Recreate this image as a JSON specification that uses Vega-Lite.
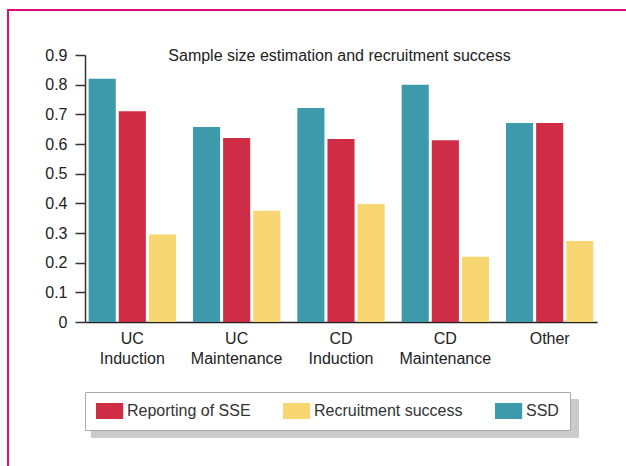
{
  "$schema": "https://vega.github.io/schema/vega-lite/v6.json",
  "autosize": {"type": "none"},
  "padding": {"left": 8, "top": 10, "right": -3, "bottom": -3},
  "width": 621,
  "height": 459,
  "background": "white",
  "config": {
    "view": {"stroke": "#e20a7a", "strokeWidth": 2},
    "font": "Liberation Sans"
  },
  "title": {
    "text": "Sample size estimation and recruitment success",
    "anchor": "middle",
    "offset": -54,
    "dx": 21,
    "fontSize": 16,
    "fontWeight": "normal",
    "color": "#222",
    "font": "Liberation Sans"
  },
  "data": {
    "values": [
      {"group": "UC Induction", "series": "SSD", "value": 0.82},
      {"group": "UC Induction", "series": "Reporting of SSE", "value": 0.71},
      {"group": "UC Induction", "series": "Recruitment success", "value": 0.295},
      {"group": "UC Maintenance", "series": "SSD", "value": 0.657},
      {"group": "UC Maintenance", "series": "Reporting of SSE", "value": 0.62},
      {"group": "UC Maintenance", "series": "Recruitment success", "value": 0.375},
      {"group": "CD Induction", "series": "SSD", "value": 0.721},
      {"group": "CD Induction", "series": "Reporting of SSE", "value": 0.617},
      {"group": "CD Induction", "series": "Recruitment success", "value": 0.398},
      {"group": "CD Maintenance", "series": "SSD", "value": 0.8},
      {"group": "CD Maintenance", "series": "Reporting of SSE", "value": 0.613},
      {"group": "CD Maintenance", "series": "Recruitment success", "value": 0.22},
      {"group": "Other", "series": "SSD", "value": 0.671},
      {"group": "Other", "series": "Reporting of SSE", "value": 0.671},
      {"group": "Other", "series": "Recruitment success", "value": 0.273}
    ]
  },
  "layer": [
    {
      "mark": {"type": "bar"},
      "encoding": {
        "x": {
          "field": "group",
          "type": "nominal",
          "sort": ["UC Induction", "UC Maintenance", "CD Induction", "CD Maintenance", "Other"],
          "scale": {"range": [77, 589], "paddingInner": 0.163, "paddingOuter": 0.035},
          "axis": {
            "title": null,
            "orient": "bottom",
            "offset": -147,
            "labelExpr": "split(datum.label, ' ')",
            "labelAngle": 0,
            "ticks": false,
            "domainColor": "#222",
            "domainWidth": 1.5,
            "labelFontSize": 16,
            "labelColor": "#222",
            "labelPadding": 8,
            "labelLineHeight": 20,
            "labelFont": "Liberation Sans"
          }
        },
        "xOffset": {
          "field": "series",
          "sort": ["SSD", "Reporting of SSE", "Recruitment success"],
          "scale": {"paddingInner": 0.1, "paddingOuter": 0}
        },
        "y": {
          "field": "value",
          "type": "quantitative",
          "scale": {"domain": [0, 0.9], "range": [312, 45], "nice": false, "zero": true},
          "axis": {
            "title": null,
            "orient": "left",
            "offset": -77,
            "values": [0, 0.1, 0.2, 0.3, 0.4, 0.5, 0.6, 0.7, 0.8, 0.9],
            "format": ".1~f",
            "grid": false,
            "tickSize": 10,
            "tickColor": "#333",
            "tickWidth": 1.5,
            "domainColor": "#333",
            "domainWidth": 1.5,
            "labelPadding": 8,
            "labelFontSize": 16,
            "labelColor": "#222",
            "labelFont": "Liberation Sans"
          }
        },
        "color": {
          "field": "series",
          "type": "nominal",
          "scale": {
            "domain": ["Reporting of SSE", "Recruitment success", "SSD"],
            "range": ["#cf2d45", "#f8d672", "#3d9aab"]
          },
          "legend": {
            "title": null,
            "orient": "none",
            "legendX": 77,
            "legendY": 382,
            "direction": "horizontal",
            "symbolType": "M-1,-1H2.4V1H-1Z",
            "symbolSize": 256,
            "symbolStrokeWidth": 0,
            "symbolOpacity": 1,
            "labelFontSize": 16,
            "labelFont": "Liberation Sans",
            "labelColor": "#333",
            "labelOffset": 15,
            "columnPadding": 32,
            "padding": 11,
            "strokeColor": "#aaa",
            "fillColor": "white",
            "zindex": 1
          }
        }
      }
    },
    {
      "mark": {"type": "point", "opacity": 0},
      "encoding": {
        "shape": {
          "field": "series",
          "type": "nominal",
          "legend": {
            "title": null,
            "orient": "none",
            "legendX": 83,
            "legendY": 389,
            "direction": "horizontal",
            "symbolSize": 256,
            "symbolOpacity": 0,
            "symbolStrokeWidth": 0,
            "labelExpr": "''",
            "labelOffset": 0,
            "columnPadding": 208.5,
            "padding": 11,
            "strokeColor": "#cbcbcb",
            "fillColor": "#cbcbcb",
            "zindex": 0
          }
        }
      }
    }
  ]
}
